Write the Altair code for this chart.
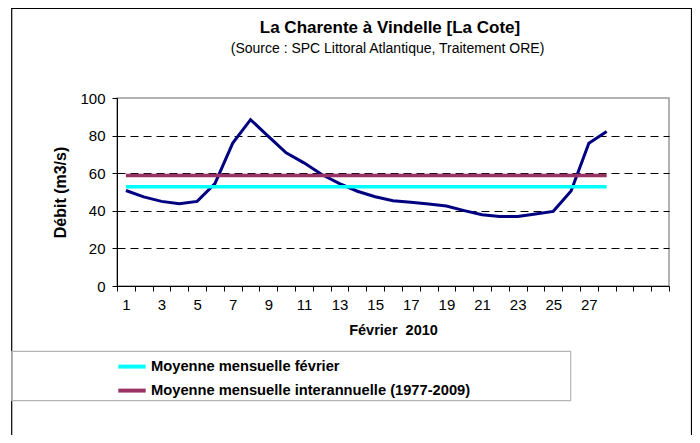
import altair as alt
import pandas as pd

# ---- data ----
DAYS = list(range(1, 29))
X_DOMAIN = list(range(1, 32))
DEBIT = [50.8, 47.4, 45.0, 43.7, 45.0, 54.5, 76.0, 88.5, 79.6, 70.8, 65.5, 59.3,
         54.5, 50.4, 47.5, 45.4, 44.5, 43.6, 42.5, 40.1, 37.9, 37.0, 37.0, 38.3,
         39.7, 50.5, 75.9, 82.2]
SERIES = ["Moyenne mensuelle février", "Moyenne mensuelle interannuelle (1977-2009)"]
MEANS = [52.8, 58.8]
COLORS = ["#00FFFF", "#993366"]
Y_TICKS = [0, 20, 40, 60, 80, 100]
TITLE = "La Charente à Vindelle [La Cote]"
SUBTITLE = "(Source : SPC Littoral Atlantique, Traitement ORE)"
X_TITLE = "Février\u00a0\u00a02010"
Y_TITLE = "Débit (m3/s)"

FONT = "Liberation Sans"
W, H = 552, 188

debit_df = pd.DataFrame({"jour": DAYS, "valeur": DEBIT})
mean_rows = []
for s, m in zip(SERIES, MEANS):
    for d in (DAYS[0], DAYS[-1]):
        mean_rows.append({"jour": d, "valeur": m, "serie": s})
mean_df = pd.DataFrame(mean_rows)

x_scale = alt.Scale(domain=X_DOMAIN, paddingInner=0, paddingOuter=0)
y_scale = alt.Scale(domain=[0, 100], nice=False, zero=True)

x_axis = alt.Axis(
    title=X_TITLE, labelExpr="datum.value <= 27 && datum.value % 2 == 1 ? datum.label : ''",
    labelAngle=0, labelOverlap=False, tickBand="extent", tickSize=5, labelPadding=6,
    grid=False, labelFontSize=15, titleFontSize=14.5, titleFontWeight="bold",
    titleX=276, titleY=44, titleBaseline="middle", titleAlign="center",
)
y_axis = alt.Axis(
    title=Y_TITLE, values=Y_TICKS, tickCount=6, tickSize=5, labelPadding=7, labelFontSize=15,
    labelOverlap=False, labelBound=False, labelFlush=False,
    grid=True, gridColor="black", gridDash=[8, 5], gridWidth=1,
    gridOpacity={"condition": {"test": "datum.value == 0 || datum.value == 100", "value": 0}, "value": 1},
    titleFontSize=16, titleFontWeight="bold", titleX=-57, titleY=94,
    titleBaseline="middle", titleAlign="center", titleAngle=-90,
)

one = alt.Data(values=[{"t": ""}])

frame = alt.Chart(one).mark_rect(fillOpacity=0, stroke="black", strokeWidth=1.2).encode(
    x=alt.value(-105.3), x2=alt.value(574.5), y=alt.value(-89.5), y2=alt.value(345)
)
legend_box = alt.Chart(one).mark_rect(fillOpacity=0, stroke="#b4b4b4", strokeWidth=1.2).encode(
    x=alt.value(-105.3), x2=alt.value(453.7), y=alt.value(253.4), y2=alt.value(302.7)
)

debit = alt.Chart(debit_df).mark_line(color="#000080", strokeWidth=3).encode(
    x=alt.X("jour:O", scale=x_scale, axis=x_axis, bandPosition=0.5),
    y=alt.Y("valeur:Q", scale=y_scale, axis=y_axis),
)

means = alt.Chart(mean_df).mark_line(strokeWidth=3.5).encode(
    x=alt.X("jour:O", scale=x_scale, axis=x_axis, bandPosition=0.5),
    y=alt.Y("valeur:Q", scale=y_scale, axis=y_axis),
    color=alt.Color(
        "serie:N",
        scale=alt.Scale(domain=SERIES, range=COLORS),
        sort=SERIES,
        legend=alt.Legend(
            orient="none", legendX=-1, legendY=252.6, title=None,
            symbolType="stroke", symbolSize=750, symbolStrokeWidth=4,
            labelFont=FONT, labelFontSize=14.7, labelFontWeight="bold", labelColor="black",
            labelOffset=3, rowPadding=-2, padding=0, labelLimit=0,
        ),
    ),
    detail="serie:N",
)

title_txt = alt.Chart(alt.Data(values=[{"t": TITLE}])).mark_text(
    font=FONT, fontSize=17, fontWeight="bold", align="center", baseline="alphabetic", color="black"
).encode(text="t:N", x=alt.value(273), y=alt.value(-64.7))

sub_txt = alt.Chart(alt.Data(values=[{"t": SUBTITLE}])).mark_text(
    font=FONT, fontSize=14, align="center", baseline="alphabetic", color="black"
).encode(text="t:N", x=alt.value(270.5), y=alt.value(-45.3))

chart = alt.layer(frame, legend_box, debit, means, title_txt, sub_txt).properties(
    width=W, height=H,
    autosize=alt.AutoSizeParams(type="none"),
    padding={"left": 109, "top": 90, "right": 23, "bottom": 149},
    background="white",
).configure_view(
    stroke="#999999", strokeWidth=1.5
).configure_axis(
    labelFont=FONT, titleFont=FONT, labelColor="black", titleColor="black",
    domainColor="black", tickColor="black", domainWidth=1, tickWidth=1,
)

chart.save("out.html", embed_options={"renderer": "svg", "actions": False})
